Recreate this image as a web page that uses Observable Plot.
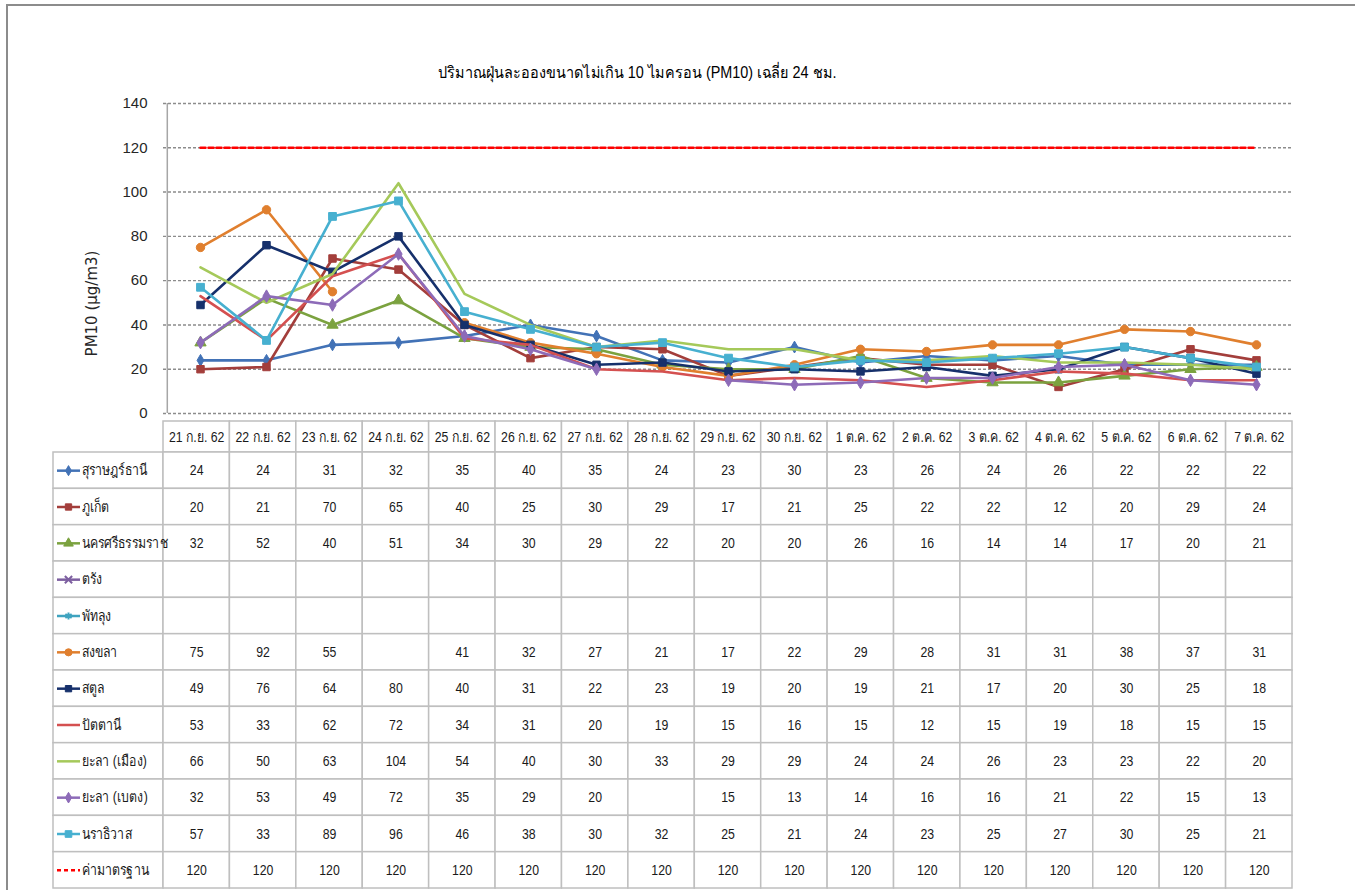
<!DOCTYPE html>
<html><head><meta charset="utf-8">
<script src="https://cdn.jsdelivr.net/npm/d3@7"></script>
<script src="https://cdn.jsdelivr.net/npm/@observablehq/plot@0.6"></script>
<style>
html,body{margin:0;padding:0;background:#fff;}
#wrap{position:relative;width:1355px;height:890px;overflow:hidden;background:#fff;}
#frame{position:absolute;left:6px;top:4px;width:1400px;height:950px;border-left:2px solid #8c8c8c;border-top:2px solid #8c8c8c;}
#title{position:absolute;left:0;width:1274px;top:60px;text-align:center;font-family:"Liberation Sans","DejaVu Sans",sans-serif;font-size:16px;color:#000;transform:scaleX(0.9);transform-origin:637px 0;}
#chart{position:absolute;left:0;top:88px;}
#table{position:absolute;left:0;top:415px;}
</style></head>
<body><div id="wrap"><div id="frame"></div>
<div id="title">ปริมาณฝุ่นละอองขนาดไม่เกิน 10 ไมครอน (PM10) เฉลี่ย 24 ชม.</div>
<div id="chart"></div><div id="table"></div></div>
<script>
// ---------- data ----------
const dates = ["21 ก.ย. 62","22 ก.ย. 62","23 ก.ย. 62","24 ก.ย. 62","25 ก.ย. 62","26 ก.ย. 62","27 ก.ย. 62","28 ก.ย. 62","29 ก.ย. 62","30 ก.ย. 62","1 ต.ค. 62","2 ต.ค. 62","3 ต.ค. 62","4 ต.ค. 62","5 ต.ค. 62","6 ต.ค. 62","7 ต.ค. 62"];
const stationNames = ["สุราษฎร์ธานี","ภูเก็ต","นครศรีธรรมราช","ตรัง","พัทลุง","สงขลา","สตูล","ปัตตานี","ยะลา (เมือง)","ยะลา (เบตง)","นราธิวาส","ค่ามาตรฐาน"];
const surat      = [24,24,31,32,35,40,35,24,23,30,23,26,24,26,22,22,22];
const phuket     = [20,21,70,65,40,25,30,29,17,21,25,22,22,12,20,29,24];
const nakhon     = [32,52,40,51,34,30,29,22,20,20,26,16,14,14,17,20,21];
const trang      = [null,null,null,null,null,null,null,null,null,null,null,null,null,null,null,null,null];
const phatthalung= [null,null,null,null,null,null,null,null,null,null,null,null,null,null,null,null,null];
const songkhla   = [75,92,55,null,41,32,27,21,17,22,29,28,31,31,38,37,31];
const satun      = [49,76,64,80,40,31,22,23,19,20,19,21,17,20,30,25,18];
const pattani    = [53,33,62,72,34,31,20,19,15,16,15,12,15,19,18,15,15];
const yalaMueang = [66,50,63,104,54,40,30,33,29,29,24,24,26,23,23,22,20];
const yalaBetong = [32,53,49,72,35,29,20,null,15,13,14,16,16,21,22,15,13];
const narathiwat = [57,33,89,96,46,38,30,32,25,21,24,23,25,27,30,25,21];
const standard   = [120,120,120,120,120,120,120,120,120,120,120,120,120,120,120,120,120];
const yTicks = [0,20,40,60,80,100,120,140];
const yLabel = "PM10 (µg/m3)";

// ---------- styles ----------
const seriesValues = [surat,phuket,nakhon,trang,phatthalung,songkhla,satun,pattani,yalaMueang,yalaBetong,narathiwat,standard];
const colors  = ["#4272B6","#A33E3B","#7BA23F","#7D5FA0","#3FA3BF","#E07F2E","#16306B","#D45050","#A5C95A","#8D6BB8","#47B0D0","#FF0000"];
const symbols = ["diamond","square","triangle","times","asterisk","circle","square",null,null,"diamond","square",null];
const radii   = [3.6,4.2,4.2,4,4,4.2,4.2,0,0,3.8,4.4,0];

const series = stationNames.map((name,i)=>({name, i, color: colors[i], symbol: symbols[i], r: radii[i],
  dashed: i === stationNames.length-1,
  points: dates.map((d,j)=>({date:d, j, value: seriesValues[i][j]}))}));

const FONT = '"Liberation Sans","DejaVu Sans",sans-serif';
const SVGNS = "http://www.w3.org/2000/svg";

// horizontally condense every text of an attached svg around its anchor point
function squeeze(svg, k) {
  Array.from(svg.querySelectorAll("text")).forEach(t=>{
    const bb = t.getBBox();
    const anchor = getComputedStyle(t).textAnchor;
    const ax = anchor === "middle" ? bb.x + bb.width/2 : anchor === "end" ? bb.x + bb.width : bb.x;
    const ay = bb.y + bb.height/2;
    const tl = t.transform.baseVal.consolidate();
    const m = tl ? tl.matrix : {a:1,b:0,c:0,d:1,e:0,f:0};
    const cx = m.a*ax + m.c*ay + m.e;
    const g = document.createElementNS(SVGNS, "g");
    g.setAttribute("transform", `translate(${cx},0) scale(${k},1) translate(${-cx},0)`);
    t.parentNode.insertBefore(g, t);
    g.appendChild(t);
  });
}

// ---------- chart ----------
const X0 = 163, X1 = 1292, colW = (X1-X0)/dates.length;
const lineMarks = [];
for (const s of series) {
  lineMarks.push(Plot.line(s.points, {x:"date", y:"value", stroke:s.color, strokeWidth:2.6,
    strokeDasharray: s.dashed ? "5,3" : null, strokeLinejoin:"round"}));
  if (s.symbol) {
    const pts = s.points.filter(p=>p.value!=null);
    const stroked = s.symbol==="times"||s.symbol==="asterisk";
    lineMarks.push(Plot.dot(pts, {x:"date", y:"value", symbol: s.symbol, r:s.r,
      fill: stroked ? "none" : s.color, stroke: s.color, strokeWidth: stroked?2:1}));
  }
}
const chart = Plot.plot({
  width:1355, height:333, marginLeft:X0, marginRight:1355-X1, marginTop:15, marginBottom:8,
  style:{fontFamily:FONT, fontSize:"15px", color:"#262626", background:"transparent", overflow:"visible"},
  x:{type:"point", domain:dates, padding:0.5, axis:null},
  y:{domain:[0,140], axis:null},
  marks:[
    Plot.gridY(yTicks, {stroke:"#8c8c8c", strokeOpacity:1, strokeDasharray:"3,2", strokeWidth:1.4}),
    Plot.axisY(yTicks, {tickSize:0, tickPadding:16, label:null, fontSize:15}),
    Plot.ruleX([dates[0]], {dx:-colW/2, y1:0, y2:140, stroke:"#a6a6a6", strokeWidth:1.5}),
    Plot.text([yLabel], {frameAnchor:"left", textAnchor:"middle", dx:-71, dy:45, rotate:-90,
      fontFamily:'"DejaVu Sans",sans-serif', fontSize:15, fill:"#262626"}),
    ...lineMarks
  ]
});
document.getElementById("chart").appendChild(chart);

// ---------- table ----------
const TOP = 415, HDR0 = 421, BODY0 = 452, BODY1 = 888, LEGX = 53;
const nRows = stationNames.length;
const rowH = (BODY1-BODY0)/nRows;
const px = p => (p - X0)/colW;     // page x -> column units
const py = p => (p - BODY0)/rowH;  // page y -> row units

const cells = [];
dates.forEach((d,j)=>cells.push({x1:j, x2:j+1, y1:py(HDR0), y2:0}));
for (let r=0;r<nRows;r++){
  cells.push({x1:px(LEGX), x2:0, y1:r, y2:r+1});
  dates.forEach((d,j)=>cells.push({x1:j, x2:j+1, y1:r, y2:r+1}));
}
const values = [];
series.forEach(s=>s.points.forEach(p=>{ if(p.value!=null) values.push({c:p.j, r:s.i, v:p.value}); }));

const legendMarks = [];
for (const s of series) {
  legendMarks.push(Plot.ruleY([s], {y:d=>d.i+0.5, x1:px(57), x2:px(80), stroke:s.color, strokeWidth:2.5,
    strokeDasharray: s.dashed ? "4,3" : null}));
  if (s.symbol) {
    const stroked = s.symbol==="times"||s.symbol==="asterisk";
    legendMarks.push(Plot.dot([s], {x:px(68), y:d=>d.i+0.5, symbol:s.symbol, r:s.r*0.85,
      fill: stroked ? "none" : s.color, stroke:s.color, strokeWidth: stroked?2:1}));
  }
}

const table = Plot.plot({
  width:1355, height:475, margin:0,
  style:{fontFamily:FONT, fontSize:"15px", color:"#1a1a1a", background:"transparent", overflow:"visible"},
  x:{type:"linear", domain:[0,dates.length], range:[X0,X1], axis:null},
  y:{type:"linear", domain:[0,nRows], range:[BODY0-TOP, BODY1-TOP], axis:null},
  marks:[
    Plot.rect(cells, {x1:"x1", x2:"x2", y1:"y1", y2:"y2", fill:"white", stroke:"#bfbfbf", strokeWidth:1.5}),
    Plot.text(dates, {x:(d,j)=>j+0.5, y:py((HDR0+BODY0)/2), text:d=>d, fontSize:15, fill:"#1a1a1a"}),
    Plot.text(values, {x:d=>d.c+0.5, y:d=>d.r+0.5, text:d=>String(d.v), fontSize:15, fill:"#1a1a1a"}),
    ...legendMarks,
    Plot.text(series, {x:px(81), y:d=>d.i+0.5, text:"name", textAnchor:"start", fontSize:15, fill:"#1a1a1a"})
  ]
});
document.getElementById("table").appendChild(table);
squeeze(table, 0.82);
</script></body></html>
